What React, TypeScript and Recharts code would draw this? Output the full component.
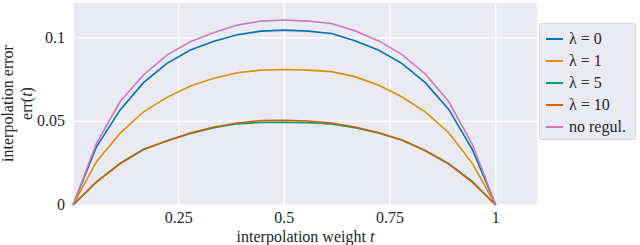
import { LineChart, Line, XAxis, YAxis, CartesianGrid, Label } from 'recharts';

// interpolation weight t, 19 steps of 1/18
const weights = [0, 1, 2, 3, 4, 5, 6, 7, 8, 9, 10, 11, 12, 13, 14, 15, 16, 17, 18].map(k => k / 18);

const errLambda0 = [0, 0.0348, 0.0567, 0.0731, 0.0846, 0.0926, 0.0978, 0.1017, 0.1039, 0.1045, 0.1039, 0.1025, 0.0982, 0.0926, 0.0846, 0.0731, 0.0571, 0.0333, 0];
const errLambda1 = [0, 0.0259, 0.0428, 0.0557, 0.0643, 0.0711, 0.0757, 0.0790, 0.0806, 0.0810, 0.0806, 0.0797, 0.0767, 0.0717, 0.0647, 0.0557, 0.0432, 0.0249, 0];
const errLambda5 = [0, 0.0139, 0.0249, 0.0333, 0.0382, 0.0428, 0.0462, 0.0485, 0.0494, 0.0494, 0.0492, 0.0484, 0.0462, 0.0430, 0.0388, 0.0326, 0.0247, 0.0141, 0];
const errLambda10 = [0, 0.0137, 0.0246, 0.0331, 0.0384, 0.0430, 0.0466, 0.0490, 0.0505, 0.0506, 0.0502, 0.0490, 0.0466, 0.0433, 0.0388, 0.0324, 0.0244, 0.0137, 0];
const errNoReg = [0, 0.0369, 0.0617, 0.0777, 0.0896, 0.0976, 0.1031, 0.1075, 0.1099, 0.1105, 0.1099, 0.1085, 0.1041, 0.0982, 0.0900, 0.0783, 0.0617, 0.0364, 0];

const xTicks = [0.25, 0.5, 0.75, 1];
const yTicks = [0, 0.05, 0.1];

const series = [
  { key: 'l0', name: 'λ = 0', color: '#0173b2', values: errLambda0 },
  { key: 'l1', name: 'λ = 1', color: '#de8f05', values: errLambda1 },
  { key: 'l5', name: 'λ = 5', color: '#029e73', values: errLambda5 },
  { key: 'l10', name: 'λ = 10', color: '#d55e00', values: errLambda10 },
  { key: 'noreg', name: 'no regul.', color: '#cc78bc', values: errNoReg },
];

const data = weights.map((t, i) => {
  const row: Record<string, number> = { t };
  series.forEach(s => { row[s.key] = s.values[i]; });
  return row;
});

const FONT = 'Liberation Serif';
const TEXT = '#262626';

const XTick = ({ x, y, payload }: any) => (
  <text x={x} y={y + 10} textAnchor="middle" style={{ fontFamily: FONT, fontSize: 16 }} fill={TEXT}>
    {String(payload.value)}
  </text>
);

const YTick = ({ x, y, payload }: any) => (
  <text x={x} y={y + 5} textAnchor="end" style={{ fontFamily: FONT, fontSize: 16 }} fill={TEXT}>
    {String(payload.value)}
  </text>
);

function LegendBox() {
  return (
    <div style={{
      position: 'absolute', left: 539, top: 23, width: 97, height: 117,
      background: '#eaeaf2', border: '1px solid #d4d4dc', borderRadius: 2,
      boxSizing: 'border-box', padding: '4px 0 0 6px',
      fontFamily: FONT, fontSize: 16, color: TEXT,
    }}>
      {series.map(s => (
        <div key={s.key} style={{ display: 'flex', alignItems: 'center', height: 22 }}>
          <span style={{ display: 'inline-block', width: 17, height: 2, background: s.color, marginRight: 6 }} />
          <span>{s.name}</span>
        </div>
      ))}
    </div>
  );
}

export default function App() {
  return (
    <div style={{ position: 'absolute', left: 0, top: 0, width: 640, height: 245, background: '#fff', fontFamily: FONT }}>
      <LineChart width={640} height={245} data={data} margin={{ top: 2, right: 102, bottom: 0, left: 0 }}>
        <CartesianGrid fill="#eaeaf2" stroke="#ffffff" strokeWidth={1.5} />
        <XAxis
          dataKey="t" type="number" domain={[0, 1.1]} ticks={xTicks} height={40}
          axisLine={false} tickLine={false} tick={<XTick />}
        >
          <Label
            content={({ viewBox }: any) => (
              <text x={viewBox.x + viewBox.width / 2} y={viewBox.y + 37} textAnchor="middle"
                style={{ fontFamily: FONT, fontSize: 16 }} fill={TEXT}>
                interpolation weight <tspan fontStyle="italic">t</tspan>
              </text>
            )}
          />
        </XAxis>
        <YAxis
          type="number" domain={[0, 0.1213]} ticks={yTicks} width={73}
          axisLine={false} tickLine={false} tick={<YTick />}
        >
          <Label
            content={({ viewBox }: any) => {
              const cy = viewBox.y + viewBox.height / 2;
              return (
                <g style={{ fontFamily: FONT, fontSize: 16 }} fill={TEXT}>
                  <text x={13} y={cy} textAnchor="middle" transform={`rotate(-90, 13, ${cy})`}>
                    interpolation error
                  </text>
                  <text x={32} y={cy} textAnchor="middle" transform={`rotate(-90, 32, ${cy})`}>
                    err(<tspan fontStyle="italic">t</tspan>)
                  </text>
                </g>
              );
            }}
          />
        </YAxis>
        {series.map(s => (
          <Line key={s.key} type="linear" dataKey={s.key} name={s.name} stroke={s.color}
            strokeWidth={1.6} dot={false} isAnimationActive={false} />
        ))}
      </LineChart>
      <LegendBox />
    </div>
  );
}
